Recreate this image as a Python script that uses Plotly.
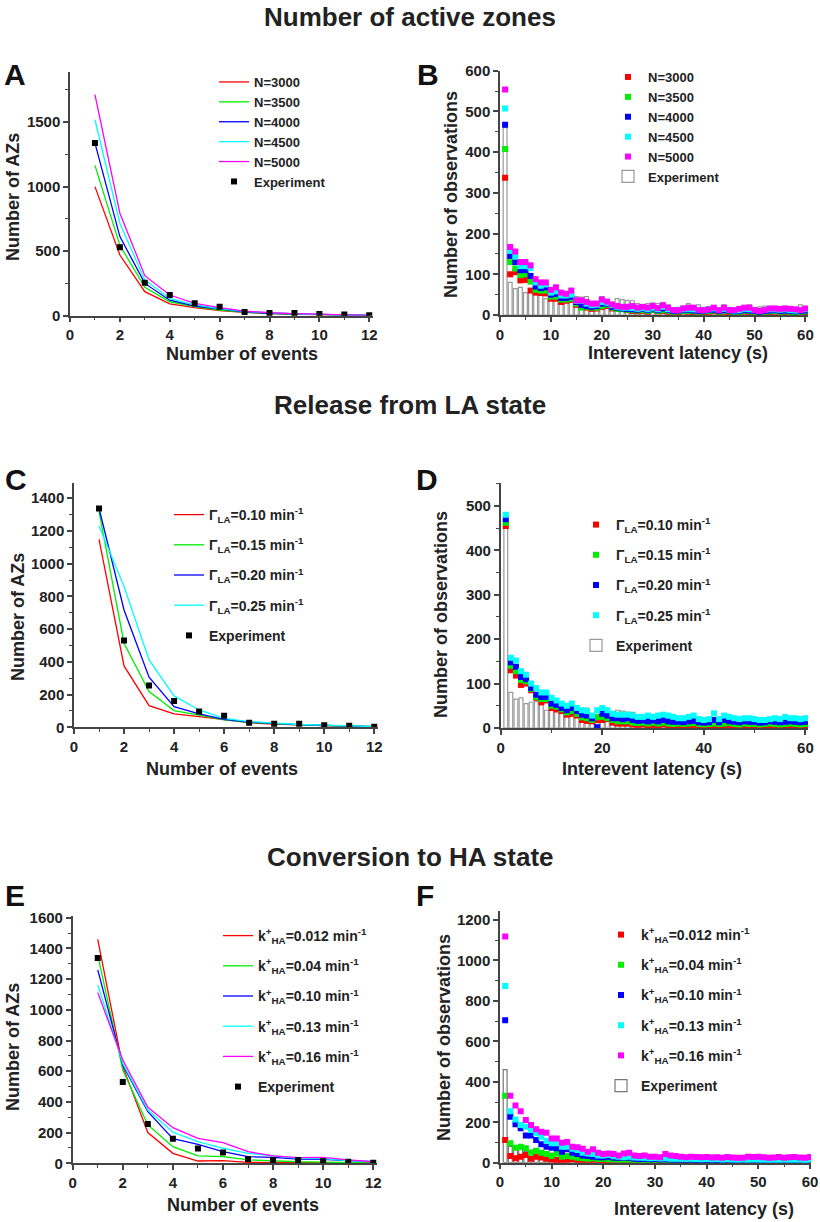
import plotly.graph_objects as go

W, H = 820, 1222

# ---------------- data ----------------
EVENTS = list(range(1, 13))
EXP_AZ = [1338, 530, 256, 160, 96, 70, 28, 21, 21, 13, 10, 3]

A_LABELS = ["N=3000", "N=3500", "N=4000", "N=4500", "N=5000"]
A_N3000 = [1000, 470, 186, 92, 62, 39, 25, 15, 10, 8, 5, 2]
A_N3500 = [1164, 545, 220, 108, 70, 44, 28, 17, 12, 9, 6, 2]
A_N4000 = [1337, 613, 250, 120, 75, 50, 30, 19, 13, 10, 7, 2]
A_N4500 = [1518, 716, 277, 134, 83, 54, 33, 21, 14, 11, 7, 3]
A_N5000 = [1712, 794, 310, 160, 96, 62, 36, 23, 16, 12, 8, 3]

C_LABELS = ["Γ<sub>LA</sub>=0.10 min<sup>-1</sup>", "Γ<sub>LA</sub>=0.15 min<sup>-1</sup>",
            "Γ<sub>LA</sub>=0.20 min<sup>-1</sup>", "Γ<sub>LA</sub>=0.25 min<sup>-1</sup>"]
C_010 = [1149, 375, 132, 82, 65, 45, 28, 20, 14, 10, 8, 4]
C_015 = [1318, 514, 218, 102, 75, 45, 30, 21, 15, 11, 8, 4]
C_020 = [1339, 717, 306, 126, 82, 49, 32, 22, 16, 12, 9, 4]
C_025 = [1231, 860, 412, 192, 106, 55, 35, 24, 17, 13, 10, 5]

E_LABELS = ["k<sup>+</sup><sub>HA</sub>=0.012 min<sup>-1</sup>", "k<sup>+</sup><sub>HA</sub>=0.04 min<sup>-1</sup>",
            "k<sup>+</sup><sub>HA</sub>=0.10 min<sup>-1</sup>", "k<sup>+</sup><sub>HA</sub>=0.13 min<sup>-1</sup>",
            "k<sup>+</sup><sub>HA</sub>=0.16 min<sup>-1</sup>"]
E_0012 = [1459, 630, 200, 65, 15, 17, 6, 4, 3, 2, 2, 1]
E_004 = [1357, 608, 250, 108, 48, 43, 22, 15, 10, 8, 5, 3]
E_010 = [1260, 640, 336, 160, 124, 76, 43, 39, 28, 26, 17, 10]
E_013 = [1162, 651, 347, 202, 141, 98, 65, 48, 33, 30, 17, 10]
E_016 = [1112, 673, 365, 232, 163, 135, 76, 48, 37, 39, 22, 10]

LATENCY = list(range(1, 61))
EXP_HIST = [460, 80, 65, 68, 55, 58, 60, 52, 40, 48, 36, 35, 40, 35, 45, 44, 45, 30, 30, 45,
            38, 28, 40, 38, 36, 35, 28, 25, 28, 30, 28, 30, 25, 15, 18, 22, 28, 20, 25, 18,
            12, 20, 15, 25, 15, 12, 20, 22, 25, 18, 20, 22, 18, 15, 15, 22, 18, 15, 25, 15]

B_N3000 = [337, 100, 105, 85, 86, 60, 55, 54, 53, 40, 40, 32, 35, 37, 25, 20, 18, 15, 16, 20,
           22, 16, 15, 15, 12, 10, 9, 10, 8, 12, 9, 10, 8, 6, 7, 9, 8, 7, 6, 7,
           8, 9, 6, 8, 7, 5, 6, 8, 7, 6, 5, 6, 7, 8, 6, 7, 6, 5, 6, 7]
B_N3500 = [408, 130, 114, 98, 100, 82, 62, 60, 60, 45, 45, 38, 38, 40, 28, 18, 20, 18, 18, 22,
           25, 18, 15, 14, 13, 12, 11, 12, 10, 13, 10, 12, 10, 8, 9, 10, 10, 9, 8, 9,
           10, 11, 8, 10, 9, 7, 8, 10, 9, 8, 6, 8, 9, 10, 8, 9, 8, 7, 8, 9]
B_N4000 = [467, 145, 130, 110, 110, 96, 70, 66, 68, 50, 52, 42, 42, 45, 32, 25, 22, 20, 22, 28,
           28, 20, 18, 16, 15, 14, 13, 15, 12, 16, 12, 16, 12, 10, 11, 12, 13, 11, 10, 11,
           12, 13, 10, 12, 11, 9, 10, 12, 11, 10, 8, 10, 11, 12, 10, 11, 10, 9, 10, 11]
B_N4500 = [507, 157, 143, 120, 120, 115, 80, 72, 75, 55, 58, 48, 48, 50, 35, 35, 28, 24, 25, 32,
           30, 24, 20, 18, 18, 17, 15, 17, 14, 18, 14, 20, 14, 12, 13, 14, 15, 14, 12, 13,
           14, 16, 12, 15, 13, 11, 12, 15, 14, 12, 10, 12, 14, 14, 13, 14, 12, 11, 12, 14]
B_N5000 = [554, 167, 156, 130, 130, 122, 88, 80, 80, 62, 68, 55, 52, 60, 36, 36, 32, 28, 28, 38,
           33, 26, 22, 20, 20, 22, 18, 20, 18, 22, 17, 24, 18, 12, 12, 16, 18, 18, 12, 12,
           14, 18, 12, 18, 12, 12, 15, 18, 18, 12, 10, 12, 16, 16, 15, 16, 15, 14, 12, 16]

D_010 = [455, 130, 118, 97, 100, 85, 68, 58, 62, 45, 42, 38, 30, 32, 28, 18, 16, 15, 18, 18,
         20, 12, 10, 10, 10, 8, 7, 8, 6, 7, 6, 8, 6, 5, 6, 5, 6, 7, 5, 4,
         5, 6, 5, 6, 7, 5, 4, 6, 5, 5, 4, 5, 6, 5, 4, 5, 6, 5, 4, 5]
D_015 = [462, 140, 128, 108, 105, 88, 70, 65, 65, 50, 48, 42, 35, 38, 32, 24, 22, 18, 24, 25,
         22, 18, 15, 15, 15, 12, 11, 12, 10, 12, 10, 12, 10, 9, 10, 9, 10, 11, 9, 8,
         9, 10, 9, 10, 11, 9, 8, 10, 9, 9, 8, 9, 10, 9, 8, 9, 10, 9, 8, 9]
D_020 = [470, 148, 138, 115, 110, 90, 75, 70, 70, 55, 52, 45, 40, 45, 38, 30, 28, 22, 2, 32,
         28, 22, 22, 20, 22, 18, 16, 17, 15, 17, 15, 18, 15, 14, 14, 13, 15, 16, 13, 12,
         13, 18, 13, 18, 15, 14, 13, 15, 14, 14, 12, 13, 15, 14, 13, 14, 15, 14, 13, 14]
D_025 = [480, 158, 152, 128, 120, 100, 90, 80, 80, 68, 62, 55, 50, 55, 45, 40, 38, 28, 40, 45,
         40, 32, 30, 30, 30, 28, 25, 25, 28, 25, 28, 30, 28, 25, 22, 22, 25, 28, 20, 18,
         20, 33, 20, 28, 25, 22, 20, 22, 22, 20, 18, 18, 20, 22, 20, 25, 22, 22, 20, 22]

F_0012 = [112, 33, 22, 30, 38, 20, 30, 26, 20, 16, 13, 13, 14, 18, 12, 12, 11, 14, 10, 12,
          10, 9, 10, 8, 9, 8, 7, 8, 7, 8, 7, 8, 6, 7, 6, 7, 6, 7, 6, 5,
          6, 7, 6, 5, 6, 5, 6, 5, 6, 5, 5, 6, 5, 6, 5, 4, 5, 6, 5, 5]
F_004 = [331, 96, 74, 79, 71, 51, 59, 49, 43, 33, 46, 30, 33, 30, 25, 22, 20, 22, 18, 20,
         17, 16, 15, 14, 15, 13, 12, 13, 12, 13, 11, 12, 11, 10, 11, 10, 11, 10, 9, 10,
         11, 10, 9, 10, 9, 10, 9, 10, 9, 9, 8, 9, 10, 9, 8, 9, 10, 9, 8, 9]
F_010 = [704, 227, 190, 170, 135, 135, 112, 91, 79, 74, 71, 54, 66, 49, 43, 36, 33, 30, 27, 27,
         30, 24, 24, 26, 24, 20, 18, 19, 17, 18, 16, 17, 15, 14, 15, 13, 14, 13, 12, 13,
         12, 13, 12, 11, 12, 11, 12, 11, 10, 11, 10, 11, 10, 11, 10, 10, 11, 10, 10, 11]
F_013 = [874, 255, 214, 186, 178, 162, 145, 128, 109, 96, 96, 79, 79, 69, 63, 49, 46, 43, 36, 36,
         38, 32, 30, 28, 30, 26, 24, 25, 22, 23, 21, 22, 20, 19, 20, 18, 19, 18, 17, 18,
         17, 18, 16, 17, 16, 15, 16, 15, 16, 15, 14, 15, 14, 15, 14, 14, 15, 14, 13, 14]
F_016 = [1118, 331, 283, 255, 211, 186, 165, 153, 148, 120, 120, 99, 102, 79, 76, 69, 54, 66, 49, 43,
         46, 43, 36, 46, 49, 36, 33, 36, 30, 30, 27, 43, 36, 33, 30, 27, 30, 28, 27, 28,
         26, 27, 25, 28, 26, 24, 25, 30, 28, 30, 27, 25, 26, 28, 25, 27, 28, 26, 25, 28]

COLORS = ["#ff0000", "#00ee00", "#0000ff", "#00ffff", "#ff00ff"]
C_COLORS = ["#ff0000", "#00ee00", "#0000ff", "#00ffff"]

SECTION_TITLES = ["Number of active zones", "Release from LA state", "Conversion to HA state"]
PANEL_LETTERS = ["A", "B", "C", "D", "E", "F"]

# ---------------- helpers ----------------
FONT = "Liberation Sans, Arial, sans-serif"
def px_x(p): return p / W
def px_y(p): return 1 - p / H

fig = go.Figure()

# panel geometry (pixels): x-left, x-right, y-top, y-bottom, xrange, yrange, xdtick, xminor, ydtick, yminor
PANELS = [
    (70, 373, 71.7, 315.7, [0, 12.15], [0, 1890], 2, 1, 500, 250),
    (500, 808, 70.7, 315, [0, 60.5], [0, 600], 10, 5, 100, 50),
    (74, 378, 482.7, 727.3, [0, 12.15], [0, 1495], 2, 1, 200, 100),
    (500.7, 808, 483.3, 728, [0, 60.5], [0, 551], 20, 10, 100, 50),
    (72.7, 377, 916.2, 1163.3, [0, 12.15], [0, 1610], 2, 1, 200, 100),
    (500, 811, 910.7, 1162.7, [0, 60.2], [0, 1246], 10, 5, 200, 100),
]

layout_axes = {}
for i, (xl, xr, yt, yb, xrng, yrng, xd, xm, yd, ym) in enumerate(PANELS):
    n = "" if i == 0 else str(i + 1)
    common = dict(showgrid=False, zeroline=False, showline=True, linecolor="#444", linewidth=1.5,
                  ticks="outside", ticklen=5, tickwidth=1.5, tickcolor="#444", tick0=0, automargin=False,
                  tickfont=dict(family=FONT, size=15, color="#222", weight="bold"), fixedrange=True)
    layout_axes["xaxis" + n] = dict(common, domain=[px_x(xl), px_x(xr)], range=xrng, dtick=xd,
                                    anchor="y" + n,
                                    minor=dict(dtick=xm, ticks="outside", ticklen=3, tickwidth=1.2, tickcolor="#444"))
    layout_axes["yaxis" + n] = dict(common, domain=[px_y(yb), px_y(yt)], range=yrng, dtick=yd,
                                    anchor="x" + n,
                                    minor=dict(dtick=ym, ticks="outside", ticklen=3, tickwidth=1.2, tickcolor="#444"))

def ax(i):
    n = "" if i == 0 else str(i + 1)
    return "x" + n, "y" + n

# Panel A
xa, ya = ax(0)
for lab, vals, col in zip(A_LABELS, [A_N3000, A_N3500, A_N4000, A_N4500, A_N5000], COLORS):
    fig.add_trace(go.Scatter(x=EVENTS, y=vals, mode="lines", name=lab, line=dict(color=col, width=1.3),
                             xaxis=xa, yaxis=ya, legend="legend"))
fig.add_trace(go.Scatter(x=EVENTS, y=EXP_AZ, mode="markers", name="Experiment",
                         marker=dict(symbol="square", size=6, color="black"), xaxis=xa, yaxis=ya, legend="legend"))

# Panel B
xb, yb_ = ax(1)
fig.add_trace(go.Bar(x=LATENCY, y=EXP_HIST, width=0.75, name="Experiment", marker=dict(color="white", line=dict(color="#999", width=1.2)),
                     xaxis=xb, yaxis=yb_, legend="legend2", legendrank=2000))
for lab, vals, col in zip(A_LABELS, [B_N3000, B_N3500, B_N4000, B_N4500, B_N5000], COLORS):
    fig.add_trace(go.Scatter(x=LATENCY, y=vals, mode="markers", name=lab,
                             marker=dict(symbol="square", size=6, color=col), xaxis=xb, yaxis=yb_, legend="legend2"))

# Panel C
xc, yc = ax(2)
for k, (lab, vals, col) in enumerate(zip(C_LABELS, [C_010, C_015, C_020, C_025], C_COLORS)):
    fig.add_trace(go.Scatter(x=EVENTS, y=vals, mode="lines", name=lab, line=dict(color=col, width=1.3),
                             xaxis=xc, yaxis=yc, legend="legend3", legendgroup="c%d" % k))
fig.add_trace(go.Scatter(x=EVENTS, y=EXP_AZ, mode="markers", name="Experiment",
                         marker=dict(symbol="square", size=6, color="black"), xaxis=xc, yaxis=yc,
                         legend="legend3", legendgroup="cexp"))

# Panel D
xd_, yd_ = ax(3)
fig.add_trace(go.Bar(x=LATENCY, y=EXP_HIST, width=0.75, name="Experiment", marker=dict(color="white", line=dict(color="#999", width=1.2)),
                     xaxis=xd_, yaxis=yd_, legend="legend4", legendrank=2000, legendgroup="dexp"))
for k, (lab, vals, col) in enumerate(zip(C_LABELS, [D_010, D_015, D_020, D_025], C_COLORS)):
    fig.add_trace(go.Scatter(x=LATENCY, y=vals, mode="markers", name=lab,
                             marker=dict(symbol="square", size=6, color=col), xaxis=xd_, yaxis=yd_,
                             legend="legend4", legendgroup="d%d" % k))

# Panel E
xe, ye = ax(4)
for k, (lab, vals, col) in enumerate(zip(E_LABELS, [E_0012, E_004, E_010, E_013, E_016], COLORS)):
    fig.add_trace(go.Scatter(x=EVENTS, y=vals, mode="lines", name=lab, line=dict(color=col, width=1.3),
                             xaxis=xe, yaxis=ye, legend="legend5", legendgroup="e%d" % k))
fig.add_trace(go.Scatter(x=EVENTS, y=EXP_AZ, mode="markers", name="Experiment",
                         marker=dict(symbol="square", size=6, color="black"), xaxis=xe, yaxis=ye,
                         legend="legend5", legendgroup="eexp"))

# Panel F
xf, yf = ax(5)
fig.add_trace(go.Bar(x=LATENCY, y=EXP_HIST, width=0.75, name="Experiment", marker=dict(color="white", line=dict(color="#777", width=1.2)),
                     xaxis=xf, yaxis=yf, legend="legend6", legendrank=2000, legendgroup="fexp"))
for k, (lab, vals, col) in enumerate(zip(E_LABELS, [F_0012, F_004, F_010, F_013, F_016], COLORS)):
    fig.add_trace(go.Scatter(x=LATENCY, y=vals, mode="markers", name=lab,
                             marker=dict(symbol="square", size=6, color=col), xaxis=xf, yaxis=yf,
                             legend="legend6", legendgroup="f%d" % k))

def leg(left, top, size, gap=0):
    return dict(x=px_x(left), y=px_y(top), xanchor="left", yanchor="top", bgcolor="rgba(0,0,0,0)",
                font=dict(family=FONT, size=size, color="#222", weight="bold"), tracegroupgap=gap)

annotations = []
# section titles
for t, yc_ in zip(SECTION_TITLES, [17, 405, 857]):
    annotations.append(dict(text=t, x=0.5, y=px_y(yc_), xref="paper", yref="paper", showarrow=False,
                            xanchor="center", yanchor="middle",
                            font=dict(family=FONT, size=26, color="#222", weight="bold")))
# panel letters
for t, (lx, ly) in zip(PANEL_LETTERS, [(15, 75), (428, 75), (16, 480), (427, 480), (15, 895), (425, 895)]):
    annotations.append(dict(text=t, x=px_x(lx), y=px_y(ly), xref="paper", yref="paper", showarrow=False,
                            xanchor="center", yanchor="middle",
                            font=dict(family=FONT, size=30, color="#111", weight="bold")))
# axis titles
XT = [("Number of events", 242, 354), ("Interevent latency (s)", 678, 353),
      ("Number of events", 222, 769), ("Interevent latency (s)", 652, 769),
      ("Number of events", 243, 1205), ("Interevent latency (s)", 704, 1209)]
for t, x, y in XT:
    annotations.append(dict(text=t, x=px_x(x), y=px_y(y), xref="paper", yref="paper", showarrow=False,
                            xanchor="center", yanchor="middle",
                            font=dict(family=FONT, size=18, color="#222", weight="bold")))
YT = [("Number of AZs", 13, 197), ("Number of observations", 451, 195),
      ("Number of AZs", 18, 617), ("Number of observations", 441, 615),
      ("Number of AZs", 13, 1047), ("Number of observations", 444, 1038)]
for t, x, y in YT:
    annotations.append(dict(text=t, x=px_x(x), y=px_y(y), xref="paper", yref="paper", showarrow=False,
                            xanchor="center", yanchor="middle", textangle=-90,
                            font=dict(family=FONT, size=18, color="#222", weight="bold")))

fig.update_layout(
    width=W, height=H, autosize=False,
    margin=dict(l=0, r=0, t=0, b=0, autoexpand=False),
    paper_bgcolor="white", plot_bgcolor="white",
    showlegend=True,
    barmode="overlay",
    annotations=annotations,
    legend=leg(214, 67, 13),
    legend2=leg(608, 62, 13),
    legend3=leg(169, 499, 14, 9),
    legend4=leg(576, 509, 14, 9),
    legend5=leg(218, 920, 14, 9),
    legend6=leg(601, 919, 14, 9),
    **layout_axes,
)

fig.write_html("out.html", config={"displayModeBar": False},
               post_script="document.body.style.margin='0';document.body.style.padding='0';"
                           "document.documentElement.style.overflow='hidden';")
